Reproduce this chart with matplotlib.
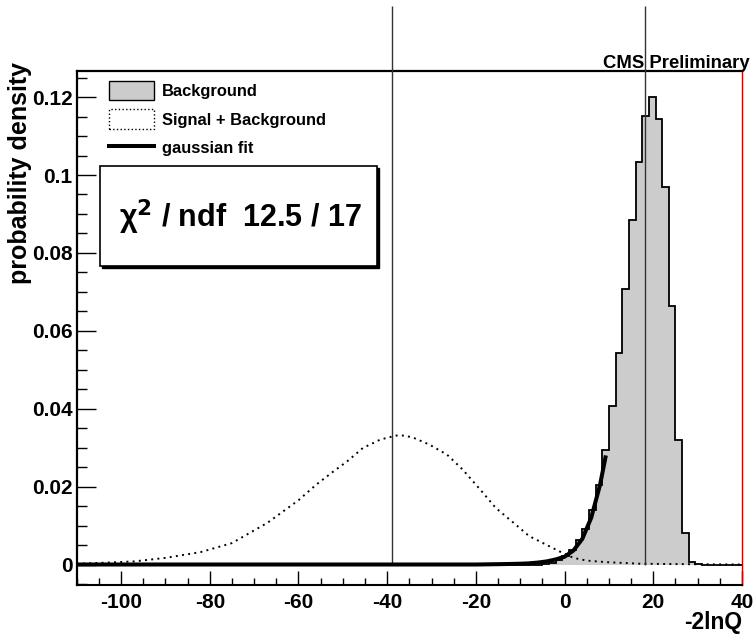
import matplotlib.pyplot as plt
import numpy as np
from matplotlib.lines import Line2D
from matplotlib.patches import Patch, Rectangle
from matplotlib.ticker import FuncFormatter, MultipleLocator

plt.rcParams['font.family'] = ['Liberation Sans', 'DejaVu Sans']
plt.rcParams['font.weight'] = 'bold'
plt.rcParams['axes.unicode_minus'] = False

# background histogram: 1.5 wide bins from -110 to 40, non-empty bins start at -5
bin_width = 1.5
x_range = (-110, 40)
bkg_first_edge = -5.0
bkg_heights = [0.0002, 0.0005, 0.0011, 0.0021, 0.0038, 0.0064, 0.0092, 0.0139,
               0.0203, 0.0295, 0.0406, 0.0543, 0.0708, 0.0884, 0.1034, 0.1152,
               0.1201, 0.1144, 0.0969, 0.0663, 0.0319, 0.0081, 0.0006, 0.0001]

# signal + background (dotted)
sb_x = [-110, -105, -97, -90, -82, -75, -67, -60, -56, -52, -49, -45.5, -41.5,
        -38, -36, -34, -30.5, -26.5, -23, -19, -15.5, -11.5, -8, -4, -0.5, 2,
        5, 9.5, 17, 25, 40]
sb_y = [0.0002, 0.0004, 0.0008, 0.0017, 0.0032, 0.0055, 0.0107, 0.0165, 0.0205,
        0.0240, 0.0265, 0.0299, 0.0321, 0.0331, 0.0331, 0.0325, 0.0308, 0.0282,
        0.0244, 0.0192, 0.0145, 0.0107, 0.0073, 0.0050, 0.0030, 0.0017, 0.0010,
        0.0006, 0.0002, 0.0001, 0.0]

# gaussian fit to the background tail
fit_x = [-110, -20, -14, -10, -8, -6, -4, -2, 0, 2, 4, 6, 8, 9.3]
fit_y = [0.0, 0.0, 0.0001, 0.0002, 0.0003, 0.0005, 0.0008, 0.0013, 0.0020,
         0.0036, 0.0066, 0.0120, 0.0205, 0.0280]

# vertical marker lines (medians)
marker_x = [-39, 18.2]
line_top = 0.1435

fig = plt.figure(figsize=(7.55, 6.42), dpi=100)
ax = fig.add_axes([0.1016, 0.0888, 0.8812, 0.8006])

edges = np.arange(x_range[0], x_range[1] + bin_width / 2, bin_width)
bkg = np.zeros(len(edges) - 1)
i0 = int(round((bkg_first_edge - x_range[0]) / bin_width))
bkg[i0:i0 + len(bkg_heights)] = bkg_heights

ax.stairs(bkg, edges, fill=True, facecolor='#cccccc', edgecolor='none')
ax.stairs(bkg, edges, color='black', lw=1.3)
ax.plot(sb_x, sb_y, color='black', ls=(0, (1, 2.2)), lw=1.4)
ax.vlines(marker_x, 0, line_top, color='#333333', lw=1, clip_on=False, zorder=3)
ax.plot(fit_x, fit_y, color='black', lw=2.9, solid_capstyle='butt', zorder=4)

ax.set_xlim(*x_range)
ax.set_ylim(-0.00526, 0.1267)

ax.xaxis.set_major_locator(MultipleLocator(20))
ax.xaxis.set_minor_locator(MultipleLocator(5))
ax.yaxis.set_major_locator(MultipleLocator(0.02))
ax.yaxis.set_minor_locator(MultipleLocator(0.005))
ax.yaxis.set_major_formatter(FuncFormatter(lambda v, p: '%g' % round(v, 4)))
ax.xaxis.set_major_formatter(FuncFormatter(lambda v, p: '%g' % v))
ax.tick_params(axis='y', which='major', direction='in', length=13.5, width=1, pad=3, labelsize=15)
ax.tick_params(axis='y', which='minor', direction='in', length=7, width=1)
ax.tick_params(axis='x', which='major', direction='in', length=10, width=1, pad=6, labelsize=15)
ax.tick_params(axis='x', which='minor', direction='in', length=5, width=1)

ax.spines['left'].set_linewidth(1.6)
ax.spines['top'].set_linewidth(1.6)
ax.spines['bottom'].set_linewidth(1.5)
ax.spines['right'].set_color('#cc0000')
ax.spines['right'].set_linewidth(1.0)
ax.plot([0, 1], [0.002, 0.002], transform=ax.transAxes, color='#dd3333', lw=0.7, clip_on=False)

# legend
handles = [Patch(facecolor='#cccccc', edgecolor='black', lw=1),
           Patch(facecolor='white', edgecolor='black', ls=':', lw=1),
           Line2D([], [], color='black', lw=2.9)]
labels = ['Background', 'Signal + Background', 'gaussian fit']
ax.legend(handles, labels, loc='upper left', bbox_to_anchor=(0.048, 0.981),
          frameon=False, fontsize=11.9, handlelength=2.75, handleheight=1.45,
          handletextpad=0.5, labelspacing=0.55, borderpad=0, borderaxespad=0)

# chi2 box with shadow
fig.patches.append(Rectangle((0.1325 + 0.003, 0.5857 - 0.003), 0.3669, 0.1558,
                             transform=fig.transFigure, facecolor='black', edgecolor='black'))
fig.patches.append(Rectangle((0.1325, 0.5857), 0.3669, 0.1558, transform=fig.transFigure,
                             facecolor='white', edgecolor='black', lw=1.2))
fig.text(0.318, 0.662, r'$\mathregular{\chi}^{\mathbf{2}}$ / ndf  12.5 / 17', fontsize=22,
         ha='center', va='center')

fig.text(0.9934, 0.894, 'CMS Preliminary', fontsize=13.3, ha='right', va='baseline')
fig.text(0.026, 0.903, 'probability density', fontsize=18, rotation=90, ha='center', va='top')
fig.text(0.983, 0.031, '-2lnQ', fontsize=16.5, ha='right', va='center')

fig.savefig('out.png', dpi=100)
